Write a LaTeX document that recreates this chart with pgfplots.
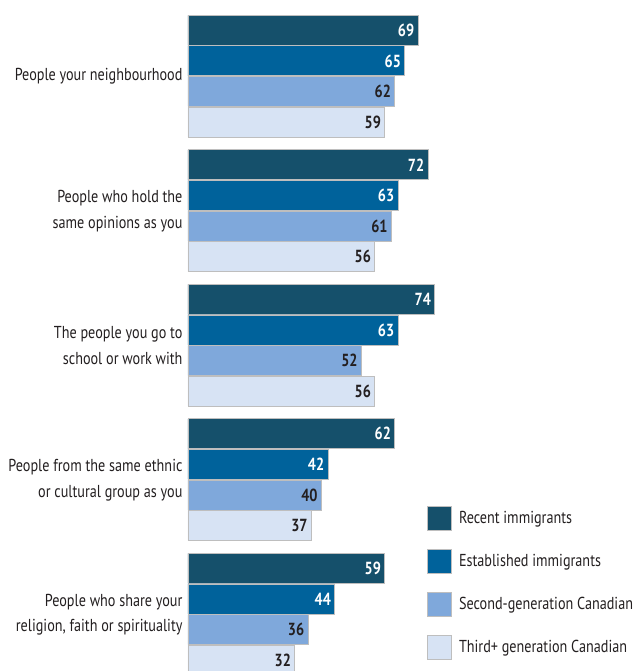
\documentclass[border=0pt]{standalone}
\usepackage{pgfplots}
\pgfplotsset{compat=1.18}
\usepackage{fontspec}
\setmainfont[FakeStretch=0.82]{PT Sans}
\definecolor{cA}{HTML}{15506B}
\definecolor{cB}{HTML}{00629B}
\definecolor{cC}{HTML}{7FA8DB}
\definecolor{cD}{HTML}{D7E3F4}
\definecolor{bordc}{HTML}{BEBEBE}
\definecolor{txt}{HTML}{231F20}
\pgfplotsset{sqlegend/.style={legend image code/.code={\draw[##1,draw=bordc,line width=0.8pt] (0pt,-12pt) rectangle (24pt,12pt);}}}
\begin{document}
\begin{tikzpicture}
\begin{axis}[
  scale only axis, width=449pt, height=671pt,
  xmin=0, xmax=134.7, ymin=0, ymax=671, y dir=reverse,
  axis line style={draw=none}, major tick length=0pt,
  xtick=\empty,
  /pgf/number format/assume math mode=true,
  ytick={76.5,211,345.5,480,614.5},
  yticklabels={{People your neighbourhood},{People who hold the\\same opinions as you},{The people you go to\\school or work with},{People from the same ethnic\\or cultural group as you},{People who share your\\religion, faith or spirituality}},
  yticklabel style={align=right, font=\fontsize{17.3}{25.5}\selectfont, text=txt, xshift=-2pt},
  xbar, bar width=30, bar shift=0pt,
  nodes near coords,
  every node near coord/.append style={anchor=east, xshift=0pt, font=\bfseries\fontsize{17.5}{18}\selectfont},
  legend style={at={(axis cs:70.8,504)}, anchor=north west, draw=none, fill=none,
    row sep=18pt, font=\fontsize{17.3}{18}\selectfont, text=txt,
    /tikz/every even column/.append style={column sep=6pt},
    nodes={inner xsep=7pt}},
  legend cell align=left,
]
\addplot[fill=cA, draw=bordc, line width=0.8pt, nodes near coords style={text=white}, sqlegend] coordinates {(69,30.3) (72,164.8) (74,299.3) (62,433.8) (59,568.3)};
\addplot[fill=cB, draw=bordc, line width=0.8pt, nodes near coords style={text=white}, sqlegend] coordinates {(65,60.9) (63,195.4) (63,329.9) (42,464.4) (44,598.9)};
\addplot[fill=cC, draw=bordc, line width=0.8pt, nodes near coords style={text=txt}, sqlegend] coordinates {(62,91.5) (61,226) (52,360.5) (40,495) (36,629.5)};
\addplot[fill=cD, draw=bordc, line width=0.8pt, nodes near coords style={text=txt}, sqlegend] coordinates {(59,122.1) (56,256.6) (56,391.1) (37,525.6) (32,660.1)};
\legend{Recent immigrants, Established immigrants, Second-generation Canadian, Third+ generation Canadian}
\coordinate (tl) at (axis cs:-56.4,0);
\coordinate (br) at (axis cs:134.7,671);
\end{axis}
\pgfresetboundingbox
\useasboundingbox (tl) rectangle (br);
\end{tikzpicture}
\end{document}
